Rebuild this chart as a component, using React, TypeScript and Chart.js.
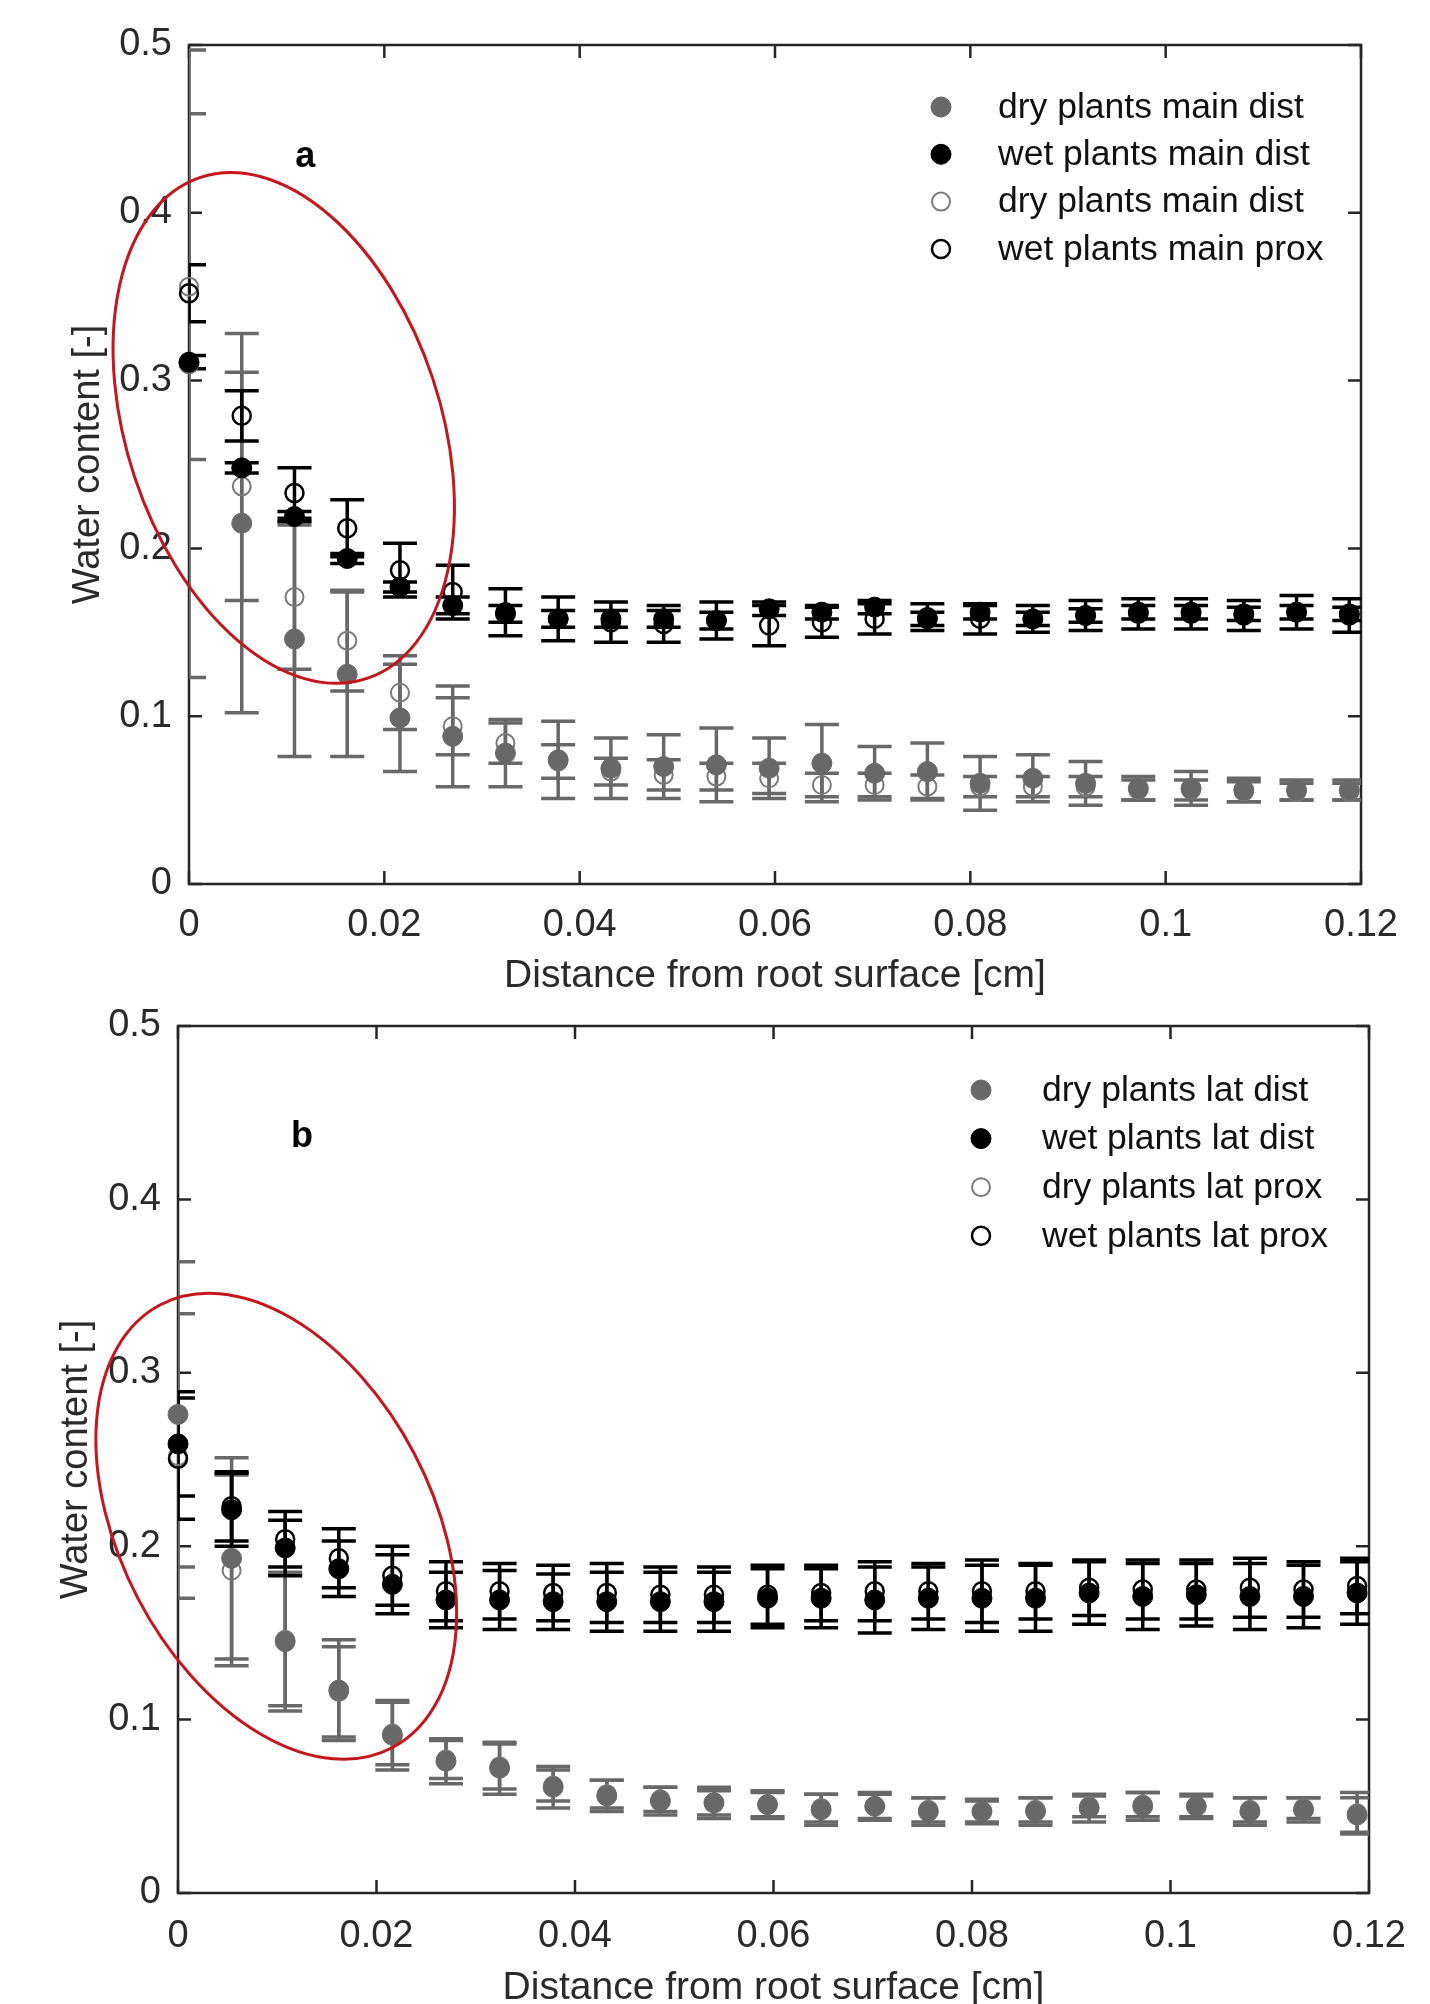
import React, { useEffect, useRef } from "react";
import { Chart, registerables } from "chart.js";

Chart.register(...registerables);

// ---------- data ----------
const distances = [
  0, 0.0054, 0.0108, 0.0162, 0.0216, 0.027, 0.0324, 0.0378, 0.0432, 0.0486, 0.054, 0.0594,
  0.0648, 0.0702, 0.0756, 0.081, 0.0864, 0.0918, 0.0972, 0.1026, 0.108, 0.1134, 0.1188,
];

const xTickValues = [0, 0.02, 0.04, 0.06, 0.08, 0.1, 0.12];
const yTickValues = [0, 0.1, 0.2, 0.3, 0.4, 0.5];

// panel a (main roots)
const dryMainDist = [0.31, 0.215, 0.146, 0.125, 0.099, 0.088, 0.078, 0.074, 0.069, 0.07, 0.071, 0.069, 0.072, 0.066, 0.067, 0.06, 0.063, 0.06, 0.057, 0.057, 0.056, 0.056, 0.056];
const dryMainDistErr = [0.187, 0.113, 0.07, 0.049, 0.032, 0.03, 0.02, 0.023, 0.018, 0.019, 0.022, 0.018, 0.023, 0.016, 0.017, 0.016, 0.014, 0.013, 0.007, 0.01, 0.007, 0.006, 0.006];
const wetMainDist = [0.311, 0.248, 0.219, 0.194, 0.177, 0.166, 0.161, 0.158, 0.158, 0.158, 0.157, 0.164, 0.162, 0.165, 0.158, 0.162, 0.158, 0.16, 0.162, 0.162, 0.161, 0.162, 0.161];
const wetMainDistErr = [0.004, 0.003, 0.003, 0.003, 0.003, 0.005, 0.005, 0.005, 0.005, 0.005, 0.005, 0.004, 0.004, 0.004, 0.004, 0.004, 0.004, 0.004, 0.004, 0.004, 0.004, 0.004, 0.004];
const dryMainProx = [0.356, 0.237, 0.171, 0.145, 0.114, 0.094, 0.084, 0.073, 0.067, 0.065, 0.064, 0.063, 0.059, 0.059, 0.058, 0.058, 0.058, 0.058, 0.056, 0.056, 0.055, 0.055, 0.055];
const dryMainProxErr = [0.103, 0.068, 0.043, 0.03, 0.022, 0.017, 0.012, 0.01, 0.008, 0.009, 0.008, 0.009, 0.007, 0.007, 0.007, 0.006, 0.006, 0.006, 0.006, 0.006, 0.006, 0.005, 0.005];
const wetMainProx = [0.352, 0.279, 0.233, 0.212, 0.187, 0.174, 0.162, 0.158, 0.156, 0.155, 0.157, 0.154, 0.156, 0.158, 0.159, 0.158, 0.158, 0.16, 0.161, 0.161, 0.16, 0.162, 0.16];
const wetMainProxErr = [0.017, 0.015, 0.015, 0.017, 0.016, 0.016, 0.014, 0.013, 0.012, 0.011, 0.011, 0.012, 0.009, 0.009, 0.008, 0.009, 0.008, 0.009, 0.009, 0.009, 0.009, 0.01, 0.01];

// panel b (lateral roots)
const dryLatDist = [0.276, 0.193, 0.145, 0.117, 0.091, 0.076, 0.072, 0.061, 0.056, 0.053, 0.052, 0.051, 0.048, 0.05, 0.047, 0.047, 0.047, 0.049, 0.05, 0.05, 0.047, 0.048, 0.045];
const dryLatDistErr = [0.088, 0.058, 0.04, 0.029, 0.02, 0.013, 0.015, 0.012, 0.009, 0.008, 0.009, 0.008, 0.009, 0.008, 0.008, 0.007, 0.008, 0.008, 0.008, 0.007, 0.008, 0.007, 0.01];
const wetLatDist = [0.259, 0.221, 0.199, 0.187, 0.178, 0.169, 0.169, 0.168, 0.168, 0.168, 0.168, 0.17, 0.17, 0.169, 0.17, 0.17, 0.17, 0.173, 0.171, 0.172, 0.171, 0.171, 0.173];
const wetLatDistErr = [0.03, 0.021, 0.016, 0.016, 0.017, 0.016, 0.017, 0.016, 0.017, 0.017, 0.017, 0.017, 0.017, 0.019, 0.018, 0.019, 0.019, 0.018, 0.019, 0.018, 0.019, 0.018, 0.018];
const dryLatProx = [0.252, 0.186, 0.146, 0.116, 0.092, 0.077, 0.073, 0.062, 0.057, 0.054, 0.052, 0.051, 0.049, 0.05, 0.048, 0.047, 0.048, 0.05, 0.051, 0.05, 0.048, 0.049, 0.046];
const dryLatProxErr = [0.082, 0.055, 0.038, 0.026, 0.018, 0.011, 0.013, 0.009, 0.008, 0.007, 0.007, 0.007, 0.008, 0.007, 0.007, 0.006, 0.007, 0.006, 0.007, 0.006, 0.007, 0.006, 0.012];
const wetLatProx = [0.2505, 0.223, 0.204, 0.193, 0.183, 0.174, 0.174, 0.173, 0.173, 0.172, 0.172, 0.172, 0.173, 0.174, 0.174, 0.174, 0.174, 0.176, 0.175, 0.175, 0.176, 0.175, 0.177];
const wetLatProxErr = [0.035, 0.02, 0.016, 0.017, 0.017, 0.017, 0.016, 0.016, 0.017, 0.016, 0.016, 0.017, 0.016, 0.017, 0.016, 0.018, 0.016, 0.016, 0.017, 0.017, 0.017, 0.016, 0.016];

const legendA = ["dry plants main dist", "wet plants main dist", "dry plants main dist", "wet plants main prox"];
const legendB = ["dry plants lat dist", "wet plants lat dist", "dry plants lat prox", "wet plants lat prox"];

const xTitle = "Distance from root surface [cm]";
const yTitle = "Water content [-]";

// ---------- style ----------
const GRAY = "#686868";
const GRAY_OPEN = "#7a7a7a";
const BLACK = "#000000";
const AXIS = "#262626";
const TEXT = "#2a2a2a";
const RED = "#c4161c";
const FONT = "'Liberation Sans', Arial, Helvetica, sans-serif";

type Panel = {
  series: { dryDist: number[]; dryDistErr: number[]; wetDist: number[]; wetDistErr: number[]; dryProx: number[]; dryProxErr: number[]; wetProx: number[]; wetProxErr: number[] };
  legend: string[];
  letter: string;
  letterAt: [number, number];
  ellipse: { at: [number, number]; rx: number; ry: number; rot: number };
  legendLayout: { markerFromRight: number; textFromRight: number; firstFromTop: number; step: number };
  layout: { top: number; right: number; yWidth: number; xHeight: number; yTitlePad: number; xTickPad: number; xTitleLH: number };
  height: number;
};

function toPts(vals: number[]) {
  return distances.map((d, i) => ({ x: d, y: vals[i] }));
}

function makeDecor(p: Panel) {
  return {
    id: "decor" + p.letter,
    beforeDatasetsDraw(chart: any) {
      const { ctx, chartArea: ca, scales } = chart;
      const xs = scales.x;
      const ys = scales.y;
      ctx.save();
      // box
      ctx.strokeStyle = AXIS;
      ctx.lineWidth = 2.5;
      ctx.strokeRect(ca.left, ca.top, ca.right - ca.left, ca.bottom - ca.top);
      // inner ticks on all sides
      const TL = 13;
      ctx.beginPath();
      xTickValues.forEach((v) => {
        const px = xs.getPixelForValue(v);
        ctx.moveTo(px, ca.bottom);
        ctx.lineTo(px, ca.bottom - TL);
        ctx.moveTo(px, ca.top);
        ctx.lineTo(px, ca.top + TL);
      });
      yTickValues.forEach((v) => {
        const py = ys.getPixelForValue(v);
        ctx.moveTo(ca.left, py);
        ctx.lineTo(ca.left + TL, py);
        ctx.moveTo(ca.right, py);
        ctx.lineTo(ca.right - TL, py);
      });
      ctx.stroke();
      // error bars, clipped to the axes box
      ctx.beginPath();
      ctx.rect(ca.left, ca.top, ca.right - ca.left, ca.bottom - ca.top);
      ctx.clip();
      const dss = chart.data.datasets;
      for (let k = dss.length - 1; k >= 0; k--) {
        const ds = dss[k];
        if (!ds.errors) continue;
        ctx.strokeStyle = ds.errColor;
        ctx.lineWidth = ds.errWidth;
        ctx.lineCap = "butt";
        ds.data.forEach((pt: any, i: number) => {
          const e = ds.errors[i];
          const px = xs.getPixelForValue(pt.x);
          const yt = ys.getPixelForValue(pt.y + e);
          const yb = ys.getPixelForValue(pt.y - e);
          const cw = 17;
          ctx.beginPath();
          ctx.moveTo(px, yt);
          ctx.lineTo(px, yb);
          ctx.moveTo(px - cw, yt);
          ctx.lineTo(px + cw, yt);
          ctx.moveTo(px - cw, yb);
          ctx.lineTo(px + cw, yb);
          ctx.stroke();
        });
      }
      ctx.restore();
    },
    afterDatasetsDraw(chart: any) {
      const { ctx, chartArea: ca, scales } = chart;
      const xs = scales.x;
      const ys = scales.y;
      ctx.save();
      // red ellipse
      ctx.strokeStyle = RED;
      ctx.lineWidth = 3;
      ctx.beginPath();
      ctx.ellipse(xs.getPixelForValue(p.ellipse.at[0]), ys.getPixelForValue(p.ellipse.at[1]), p.ellipse.rx, p.ellipse.ry, p.ellipse.rot, 0, Math.PI * 2);
      ctx.stroke();
      // panel letter
      ctx.fillStyle = "#000";
      ctx.font = `bold 36px ${FONT}`;
      ctx.textAlign = "center";
      ctx.textBaseline = "middle";
      ctx.fillText(p.letter, xs.getPixelForValue(p.letterAt[0]), ys.getPixelForValue(p.letterAt[1]));
      // legend
      const L = p.legendLayout;
      const styles = [
        { fill: GRAY, stroke: GRAY, r: 10, w: 1 },
        { fill: BLACK, stroke: BLACK, r: 10, w: 1 },
        { fill: null, stroke: GRAY_OPEN, r: 9, w: 2 },
        { fill: null, stroke: BLACK, r: 9, w: 2.5 },
      ];
      ctx.font = `35.5px ${FONT}`;
      ctx.textAlign = "left";
      p.legend.forEach((label, i) => {
        const cy = ca.top + L.firstFromTop + i * L.step;
        const mx = ca.right - L.markerFromRight;
        const s = styles[i];
        ctx.beginPath();
        ctx.arc(mx, cy, s.r, 0, Math.PI * 2);
        if (s.fill) {
          ctx.fillStyle = s.fill;
          ctx.fill();
        }
        ctx.strokeStyle = s.stroke;
        ctx.lineWidth = s.w;
        ctx.stroke();
        ctx.fillStyle = "#111";
        ctx.fillText(label, ca.right - L.textFromRight, cy + 1);
      });
      ctx.restore();
    },
  };
}

function fmt(v: number) {
  return String(Number(Number(v).toFixed(4)));
}

function buildConfig(p: Panel): any {
  const s = p.series;
  const datasets = [
    { label: p.legend[1], data: toPts(s.wetDist), errors: s.wetDistErr, errColor: BLACK, errWidth: 3.5, pointRadius: 10, pointBackgroundColor: BLACK, pointBorderColor: BLACK, pointBorderWidth: 1 },
    { label: p.legend[3], data: toPts(s.wetProx), errors: s.wetProxErr, errColor: BLACK, errWidth: 3.5, pointRadius: 9, pointBackgroundColor: "rgba(0,0,0,0)", pointBorderColor: BLACK, pointBorderWidth: 2.5 },
    { label: p.legend[0], data: toPts(s.dryDist), errors: s.dryDistErr, errColor: GRAY, errWidth: 3.5, pointRadius: 10, pointBackgroundColor: GRAY, pointBorderColor: GRAY, pointBorderWidth: 1 },
    { label: p.legend[2], data: toPts(s.dryProx), errors: s.dryProxErr, errColor: GRAY, errWidth: 3.5, pointRadius: 9, pointBackgroundColor: "rgba(0,0,0,0)", pointBorderColor: GRAY_OPEN, pointBorderWidth: 2 },
  ].map((d) => ({ ...d, showLine: false, clip: false, pointHoverRadius: d.pointRadius }));

  const L = p.layout;
  return {
    type: "scatter",
    data: { datasets },
    options: {
      animation: false,
      responsive: false,
      devicePixelRatio: 1,
      events: [],
      layout: { padding: { top: L.top, right: L.right, left: 0, bottom: 0 } },
      plugins: { legend: { display: false }, tooltip: { enabled: false }, title: { display: false } },
      scales: {
        x: {
          type: "linear",
          min: 0,
          max: 0.12,
          afterFit: (sc: any) => {
            sc.height = L.xHeight;
          },
          afterBuildTicks: (sc: any) => {
            sc.ticks = xTickValues.map((v) => ({ value: v }));
          },
          grid: { display: false, drawTicks: false },
          border: { display: false },
          ticks: { autoSkip: false, maxRotation: 0, padding: L.xTickPad, color: TEXT, font: { family: FONT, size: 38 }, callback: (v: number) => fmt(v) },
          title: { display: true, text: xTitle, color: TEXT, font: { family: FONT, size: 39, lineHeight: L.xTitleLH }, padding: 0 },
        },
        y: {
          type: "linear",
          min: 0,
          max: 0.5,
          afterFit: (sc: any) => {
            sc.width = L.yWidth;
          },
          afterBuildTicks: (sc: any) => {
            sc.ticks = yTickValues.map((v) => ({ value: v }));
          },
          grid: { display: false, drawTicks: false },
          border: { display: false },
          ticks: { autoSkip: false, padding: 17, color: TEXT, font: { family: FONT, size: 38 }, callback: (v: number) => fmt(v) },
          title: { display: true, text: yTitle, color: TEXT, font: { family: FONT, size: 38, lineHeight: 1.2 }, padding: { top: L.yTitlePad, bottom: 0 } },
        },
      },
    },
    plugins: [makeDecor(p)],
  };
}

const panelA: Panel = {
  series: { dryDist: dryMainDist, dryDistErr: dryMainDistErr, wetDist: wetMainDist, wetDistErr: wetMainDistErr, dryProx: dryMainProx, dryProxErr: dryMainProxErr, wetProx: wetMainProx, wetProxErr: wetMainProxErr },
  legend: legendA,
  letter: "a",
  letterAt: [0.0119, 0.433],
  ellipse: { at: [0.0097, 0.2718], rx: 157, ry: 264, rot: -0.321 },
  legendLayout: { markerFromRight: 420, textFromRight: 363, firstFromTop: 62, step: 47.3 },
  layout: { top: 45, right: 69, yWidth: 189, xHeight: 116, yTitlePad: 66, xTickPad: 18.5, xTitleLH: 1.2 },
  height: 1000,
};

// panel b canvas starts at y=980 so that its 46px top padding places the axes top at y=1026
const panelB: Panel = {
  series: { dryDist: dryLatDist, dryDistErr: dryLatDistErr, wetDist: wetLatDist, wetDistErr: wetLatDistErr, dryProx: dryLatProx, dryProxErr: dryLatProxErr, wetProx: wetLatProx, wetProxErr: wetLatProxErr },
  legend: legendB,
  letter: "b",
  letterAt: [0.0125, 0.436],
  ellipse: { at: [0.0099, 0.2115], rx: 156, ry: 250, rot: -0.482 },
  legendLayout: { markerFromRight: 388, textFromRight: 327, firstFromTop: 64, step: 48.6 },
  layout: { top: 46, right: 61, yWidth: 178, xHeight: 111, yTitlePad: 54, xTickPad: 20.5, xTitleLH: 0.8 },
  height: 1024,
};

function PanelChart({ panel, top }: { panel: Panel; top: number }) {
  const ref = useRef<HTMLCanvasElement | null>(null);
  useEffect(() => {
    if (!ref.current) return;
    const chart = new Chart(ref.current, buildConfig(panel));
    return () => chart.destroy();
  }, [panel]);
  return (
    <canvas
      ref={ref}
      width={1430}
      height={panel.height}
      style={{ position: "absolute", left: 0, top, width: 1430, height: panel.height, display: "block" }}
    />
  );
}

export default function App() {
  return (
    <div style={{ position: "absolute", left: 0, top: 0, width: 1430, height: 2004, background: "#ffffff", overflow: "hidden" }}>
      <PanelChart panel={panelA} top={0} />
      <PanelChart panel={panelB} top={980} />
    </div>
  );
}
